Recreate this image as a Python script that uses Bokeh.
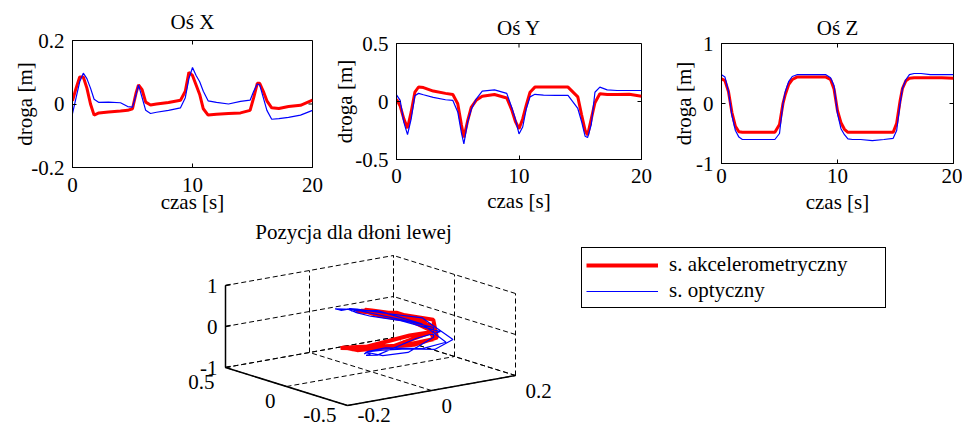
import numpy as np
from bokeh.plotting import figure
from bokeh.layouts import column, row
from bokeh.models import Range1d, FixedTicker, Legend, LegendItem
from bokeh.embed import file_html
from bokeh.resources import INLINE

# ---------------- data ----------------
t = [0, 0.3, 0.6, 0.9, 1.2, 1.5, 1.8, 2.2, 3, 4, 4.6, 5.0, 5.3, 5.5, 5.8, 6.1, 6.5, 7, 8, 9,
     9.4, 9.7, 10, 10.3, 10.6, 10.9, 11.3, 12, 13, 14, 14.8, 15.1, 15.4, 15.6, 15.9, 16.2, 16.6,
     17.2, 18, 19, 20]

x_acc = [0.01, 0.05, 0.085, 0.085, 0.05, 0.0, -0.035, -0.028, -0.025, -0.022, -0.02, -0.015,
         0.035, 0.06, 0.045, 0.006, -0.003, 0.0, 0.005, 0.012, 0.04, 0.1, 0.09, 0.06, 0.03,
         -0.015, -0.035, -0.032, -0.03, -0.028, -0.02, 0.02, 0.065, 0.065, 0.04, 0.01, -0.012,
         -0.014, -0.008, -0.004, 0.012]
x_opt = [-0.03, 0.02, 0.07, 0.097, 0.08, 0.05, 0.015, 0.005, 0.006, 0.004, -0.008, -0.01,
         0.03, 0.06, 0.02, -0.02, -0.03, -0.026, -0.02, -0.012, 0.02, 0.08, 0.115, 0.09, 0.07,
         0.04, 0.01, 0.005, 0.0, 0.008, 0.012, 0.04, 0.063, 0.06, 0.02, -0.02, -0.048,
         -0.046, -0.042, -0.035, -0.02]

y_acc = [0.02, -0.04, -0.15, -0.23, -0.09, 0.08, 0.125, 0.12, 0.09, 0.07, 0.06, -0.02,
         -0.2, -0.31, -0.17, -0.05, 0.01, 0.045, 0.06, 0.03, -0.07, -0.17, -0.235, -0.15, -0.03,
         0.08, 0.124, 0.124, 0.124, 0.124, 0.04, -0.11, -0.25, -0.29, -0.15, -0.01, 0.066,
         0.06, 0.06, 0.062, 0.045]
y_opt = [0.057, 0.01, -0.18, -0.285, -0.15, 0.05, 0.07, 0.058, 0.035, 0.015, 0.009, -0.09,
         -0.27, -0.365, -0.18, -0.07, 0.02, 0.09, 0.1, 0.07, -0.05, -0.15, -0.28, -0.22, -0.06,
         0.04, 0.062, 0.055, 0.052, 0.052, -0.06, -0.17, -0.30, -0.31, -0.2, 0.08, 0.124,
         0.1, 0.095, 0.095, 0.095]

z_acc = [0.41, 0.38, 0.2, -0.15, -0.38, -0.47, -0.48, -0.48, -0.48, -0.48, -0.48, -0.35,
         0.0, 0.15, 0.32, 0.4, 0.44, 0.44, 0.44, 0.44, 0.4, 0.24, -0.12, -0.32, -0.43,
         -0.48, -0.48, -0.48, -0.48, -0.48, -0.48, -0.33, 0.05, 0.25, 0.38, 0.42, 0.43,
         0.43, 0.43, 0.43, 0.42]
z_opt = [0.48, 0.44, 0.2, -0.2, -0.45, -0.56, -0.6, -0.6, -0.6, -0.6, -0.6, -0.5,
         0.0, 0.2, 0.37, 0.45, 0.48, 0.48, 0.48, 0.48, 0.43, 0.3, -0.17, -0.42, -0.52,
         -0.59, -0.6, -0.6, -0.62, -0.6, -0.58, -0.45, 0.0, 0.25, 0.4, 0.48, 0.5,
         0.5, 0.48, 0.48, 0.48]

time_ticks = [0, 10, 20]
x_ticks = [-0.2, 0, 0.2]
x_tick_labels = ["-0.2", "0", "0.2"]
y_ticks = [-0.5, 0, 0.5]
y_tick_labels = ["-0.5", "0", "0.5"]
z_ticks = [-1, 0, 1]
z_tick_labels = ["-1", "0", "1"]

titles = ["Oś X", "Oś Y", "Oś Z"]
x_label = "czas [s]"
y_label = "droga [m]"
title_3d = "Pozycja dla dłoni lewej"
legend_labels = ["s. akcelerometryczny", "s. optyczny"]

# ---------------- style ----------------
FONT = "Liberation Serif"
FS = "21px"
RED = "#ff0000"
BLUE = "#0000ff"
TICK = 4          # inward tick length, px
ROW1_H = 220


def style_axis(ax):
    ax.axis_line_color = "black"
    ax.major_tick_line_color = "black"
    ax.major_tick_in = TICK
    ax.major_tick_out = 0
    ax.minor_tick_in = 0
    ax.minor_tick_out = 0
    ax.major_label_text_font = FONT
    ax.major_label_text_font_size = FS
    ax.major_label_text_color = "black"
    ax.axis_label_text_font = FONT
    ax.axis_label_text_font_size = FS
    ax.axis_label_text_font_style = "normal"
    ax.axis_label_text_color = "black"


def make_top(title, acc, opt, ticks, tick_labels, w, bl, br, bt, bb, standoff,
             xs1, xs2, ys2):
    h = ROW1_H
    p = figure(width=w, height=h, output_backend="svg", toolbar_location=None,
               x_range=Range1d(time_ticks[0], time_ticks[-1]),
               y_range=Range1d(ticks[0], ticks[-1]),
               min_border_left=bl, min_border_right=br, min_border_top=bt,
               min_border_bottom=bb, title=title)
    p.line(t, acc, color=RED, line_width=3)
    p.line(t, opt, color=BLUE, line_width=1.2)
    p.xgrid.visible = False
    p.ygrid.visible = False
    p.outline_line_color = "black"
    p.outline_line_alpha = 1
    p.title.text_font = FONT
    p.title.text_font_size = FS
    p.title.text_font_style = "normal"
    p.title.text_color = "black"
    p.title.align = "center"
    p.title.standoff = standoff
    p.xaxis.ticker = FixedTicker(ticks=time_ticks)
    p.yaxis.ticker = FixedTicker(ticks=ticks)
    p.yaxis.major_label_overrides = {tk: lb for tk, lb in zip(ticks, tick_labels)}
    p.xaxis.axis_label = x_label
    p.yaxis.axis_label = y_label
    p.xaxis.major_label_standoff = xs1
    p.xaxis.axis_label_standoff = xs2
    p.yaxis.major_label_standoff = 8
    p.yaxis.axis_label_standoff = ys2
    for ax in p.xaxis + p.yaxis:
        style_axis(ax)
    # mirrored inward tick marks on the top and right edges of the box
    fw = w - bl - br
    fh = h - bt - bb
    dy = TICK * (ticks[-1] - ticks[0]) / fh
    dx = TICK * (time_ticks[-1] - time_ticks[0]) / fw
    p.segment(x0=time_ticks, y0=[ticks[-1]] * len(time_ticks),
              x1=time_ticks, y1=[ticks[-1] - dy] * len(time_ticks),
              line_color="black", line_width=1)
    p.segment(x0=[time_ticks[-1]] * len(ticks), y0=ticks,
              x1=[time_ticks[-1] - dx] * len(ticks), y1=ticks,
              line_color="black", line_width=1)
    return p


fig_x = make_top(titles[0], x_acc, x_opt, x_ticks, x_tick_labels, 330, 72, 18, 40,
                 ROW1_H - 167, 13, 10, -5, -9)
fig_y = make_top(titles[1], y_acc, y_opt, y_ticks, y_tick_labels, 331, 66, 20, 43,
                 ROW1_H - 159, 8, 9, 3, -5)
fig_z = make_top(titles[2], z_acc, z_opt, z_ticks, z_tick_labels, 301, 60, 9, 43,
                 ROW1_H - 163, 8, 5, 4, -3)

# ---------------- 3D view (orthographic projection) ----------------
OX, OY = 370, 330          # page position of the 3D origin
W2, H2 = 962, 426 - ROW1_H
E_B = (420.0, 75.0)        # px per unit of X data (right, up)
E_A = (-122.0, 38.0)       # px per unit of Y data
E_Z = (0.0, 41.0)          # px per unit of Z data


def proj(b, a, z):
    b = np.asarray(b, dtype=float)
    a = np.asarray(a, dtype=float)
    z = np.asarray(z, dtype=float)
    return (b * E_B[0] + a * E_A[0] + z * E_Z[0],
            b * E_B[1] + a * E_A[1] + z * E_Z[1])


q = figure(width=W2, height=H2, output_backend="svg", toolbar_location=None,
           x_axis_type=None, y_axis_type=None,
           x_range=Range1d(-OX, W2 - OX),
           y_range=Range1d(OY - (ROW1_H + H2), OY - ROW1_H),
           min_border=0)
q.outline_line_color = None

bmin, bmax = x_ticks[0], x_ticks[-1]
amin, amax = y_ticks[0], y_ticks[-1]
zmin, zmax = z_ticks[0], z_ticks[-1]


def seg(s0, s1, xs_out, ys_out):
    xs, ys = proj([s0[0], s1[0]], [s0[1], s1[1]], [s0[2], s1[2]])
    xs_out.append(list(xs))
    ys_out.append(list(ys))


gx, gy = [], []
for b in x_ticks:                      # back wall at Y = max
    seg((b, amax, zmin), (b, amax, zmax), gx, gy)
for z in z_ticks:
    seg((bmin, amax, z), (bmax, amax, z), gx, gy)
for a in y_ticks:                      # back wall at X = max
    seg((bmax, a, zmin), (bmax, a, zmax), gx, gy)
for z in z_ticks:
    seg((bmax, amin, z), (bmax, amax, z), gx, gy)
for a in y_ticks:                      # floor
    seg((bmin, a, zmin), (bmax, a, zmin), gx, gy)
for b in x_ticks:
    seg((b, amin, zmin), (b, amax, zmin), gx, gy)
q.multi_line(gx, gy, line_color="black", line_width=1, line_dash="5 3")

ax_x, ax_y = [], []
seg((bmin, amax, zmin), (bmin, amax, zmax), ax_x, ax_y)
seg((bmin, amin, zmin), (bmin, amax, zmin), ax_x, ax_y)
seg((bmin, amin, zmin), (bmax, amin, zmin), ax_x, ax_y)
for z in z_ticks:
    seg((bmin, amax, z), (bmin + 0.012, amax, z), ax_x, ax_y)
q.multi_line(ax_x, ax_y, line_color="black", line_width=1.5)

sx, sy = proj(x_acc, y_acc, z_acc)
r_red = q.line(sx, sy, color=RED, line_width=4)
sx, sy = proj(x_opt, y_opt, z_opt)
r_blue = q.line(sx, sy, color=BLUE, line_width=1.2)

txt = dict(text_font={"value": FONT}, text_font_size={"value": FS}, text_color="black",
           text_baseline="middle")
LOW = OY - 414             # lowest label centre that still fits in the page
tx, ty = proj([bmin] * 3, [amax] * 3, z_ticks)
q.text(tx - 8, ty, text=z_tick_labels, text_align="right", **txt)
tx, ty = proj([bmin] * 3, y_ticks, [zmin] * 3)
q.text(tx - 11, np.maximum(ty - 14, LOW), text=y_tick_labels, text_align="right", **txt)
tx, ty = proj(x_ticks, [amin] * 3, [zmin] * 3)
q.text(tx + 10, np.maximum(ty - 15, LOW), text=x_tick_labels, text_align="left", **txt)

q.text([353 - OX], [OY - 231], text=[title_3d], text_align="center", **txt)

legend = Legend(items=[LegendItem(label=legend_labels[0], renderers=[r_red]),
                       LegendItem(label=legend_labels[1], renderers=[r_blue])],
                location=(581, 426 - 308))
legend.border_line_color = "black"
legend.border_line_width = 1
legend.border_line_alpha = 1
legend.background_fill_color = "white"
legend.background_fill_alpha = 1
legend.label_text_font = FONT
legend.label_text_font_size = FS
legend.label_text_color = "black"
legend.glyph_width = 72
legend.glyph_height = 22
legend.label_height = 22
legend.label_width = 212
legend.label_standoff = 11
legend.padding = 4
legend.spacing = 1
legend.margin = 0
q.add_layout(legend)

layout = column(row(column(fig_x), column(fig_y), column(fig_z)), q)

with open("out.html", "w") as f:
    f.write(file_html(layout, INLINE))
